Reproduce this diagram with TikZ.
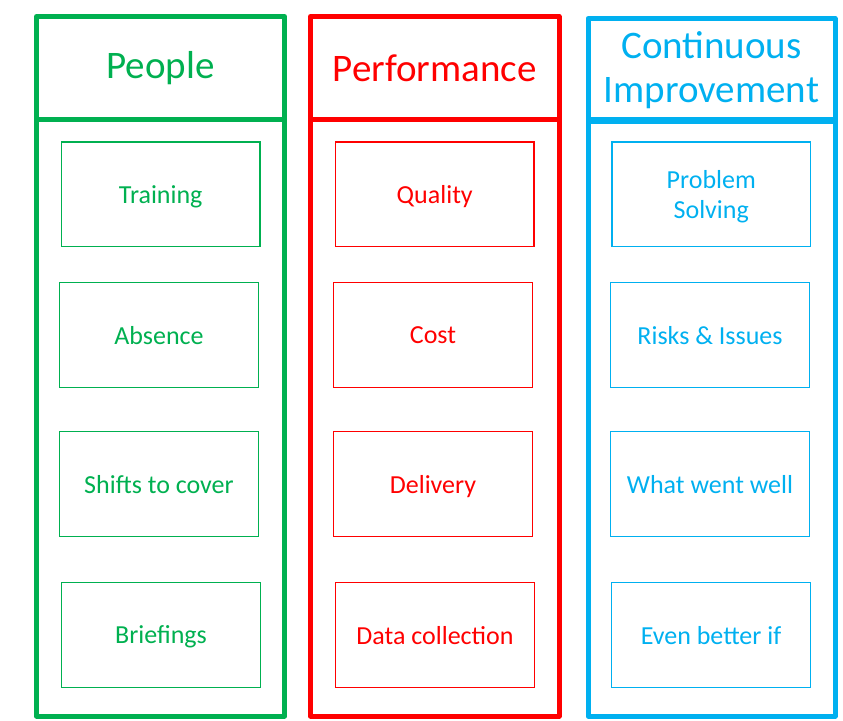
\documentclass[tikz,border=0pt]{standalone}
\usepackage{fontspec}
\setmainfont{Carlito}
\definecolor{cgreen}{HTML}{00B050}
\definecolor{cred}{HTML}{FF0000}
\definecolor{cblue}{HTML}{00B0F0}
\begin{document}
\begin{tikzpicture}[x=1pt,y=-1pt,
  frame/.style={draw=#1, line width=5pt, line join=round, inner sep=0pt, text=#1, align=center,
    font=\fontsize{39}{44}\selectfont},
  item/.style={draw=#1, line width=1.1pt, inner sep=0pt, text=#1, align=center, text depth=0pt,
    minimum width=198.5pt, minimum height=104.5pt, font=\fontsize{26}{30}\selectfont}]
\useasboundingbox (0,0) rectangle (843,720);
% columns: headers and bodies
\node[frame=cgreen, minimum width=248pt, minimum height=103pt] (hP) at (160.5,68) {People};
\node[frame=cgreen, minimum width=248pt, minimum height=596.5pt] (bP) at (160.5,417.75) {};
\node[frame=cred, minimum width=248.5pt, minimum height=103pt] (hF) at (434.75,68) {Performance};
\node[frame=cred, minimum width=248.5pt, minimum height=596.5pt] (bF) at (434.75,417.75) {};
\node[frame=cblue, minimum width=247pt, minimum height=103pt] (hC) at (711.5,70) {Continuous\\Improvement};
\node[frame=cblue, minimum width=247pt, minimum height=596.5pt] (bC) at (711.5,417.75) {};
% People items
\node[item=cgreen] (p1) at (160.75,194.25) {Training};
\node[item=cgreen] (p2) at (159,335) {Absence};
\node[item=cgreen] (p3) at (159,484) {Shifts to cover};
\node[item=cgreen] (p4) at (161,635) {Briefings};
% Performance items
\node[item=cred] (f1) at (434.75,194.25) {Quality};
\node[item=cred] (f2) at (433,335) {Cost};
\node[item=cred] (f3) at (433,484) {Delivery};
\node[item=cred] (f4) at (435,635) {Data collection};
% Continuous Improvement items
\node[item=cblue] (c1) at (711.25,194.25) {Problem\\Solving};
\node[item=cblue] (c2) at (710,335) {Risks \& Issues};
\node[item=cblue] (c3) at (710,484) {What went well};
\node[item=cblue] (c4) at (711,635) {Even better if};
\end{tikzpicture}
\end{document}
